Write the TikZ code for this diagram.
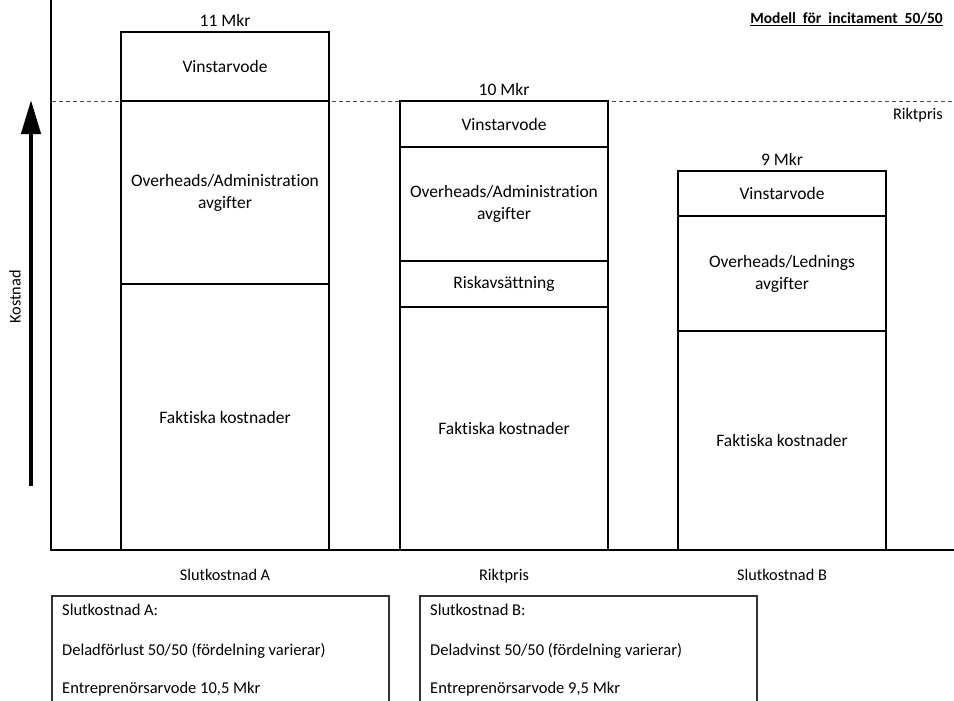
\documentclass[tikz,border=0pt]{standalone}
\usepackage{fontspec}
\setmainfont{Carlito}[Ligatures=NoCommon]
\usetikzlibrary{arrows.meta,positioning}
\begin{document}
\begin{tikzpicture}[x=1pt,y=-1pt,
  seg/.style={draw, line width=2pt, inner sep=0pt, outer sep=0pt,
    minimum width=208pt, align=center, font=\fontsize{17.5}{22}\selectfont},
  lbl/.style={inner sep=0pt, font=\fontsize{17.5}{20}\selectfont},
  small/.style={inner sep=0pt, font=\fontsize{16.3}{18}\selectfont},
  foot/.style={small, anchor=base},
  infobox/.style={draw=black!80, line width=1.3pt, inner sep=0pt, outer sep=0pt, anchor=north west,
    minimum width=337pt, minimum height=120pt},
  infotxt/.style={inner sep=0pt, anchor=west, font=\fontsize{16.5}{18}\selectfont}]
\useasboundingbox (0,0) rectangle (954,701);
\clip (0,0) rectangle (954,701);

% axes and the target-price line
\coordinate (origin) at (51,550);
\coordinate (ytop) at (51,0);
\coordinate (xend) at (954,550);
\coordinate (dl) at (52,101);
\coordinate (dr) at (954,101);
\draw[black!70, line width=0.9pt, dash pattern=on 4pt off 3pt] (dl) -- (dr);
\draw[line width=2pt] (ytop) -- (origin) -- (xend);

% cost arrow
\coordinate (abot) at (31,486);
\coordinate (atop) at (31,100);
\draw[line width=4.5pt, -{Triangle[width=19pt,length=34pt]}] (abot) -- (atop);
\node[small, rotate=90] (kost) at (15,297) {Kostnad};

% column A: final cost 11 Mkr
\node[seg, minimum height=69pt] (av) at (225,66.5) {Vinstarvode};
\node[seg, minimum height=183pt] (ao) at (225,192.5) {Overheads/Administration\\avgifter};
\node[seg, minimum height=266pt] (af) at (225,417) {Faktiska kostnader};
\node[lbl] (atot) at (225,20) {11 Mkr};
\node[foot] (alab) at (225,580) {Slutkostnad A};

% column B: target price 10 Mkr
\node[seg, minimum height=46pt] (bv) at (504,124) {Vinstarvode};
\node[seg, minimum height=114pt] (bo) at (504,204) {Overheads/Administration\\avgifter};
\node[seg, minimum height=46pt] (br) at (504,284) {Riskavsättning};
\node[seg, minimum height=243pt] (bf) at (504,428.5) {Faktiska kostnader};
\node[lbl] (btot) at (504,89) {10 Mkr};
\node[foot] (blab) at (504,580) {Riktpris};

% column C: final cost 9 Mkr
\node[seg, minimum height=45pt] (cv) at (782,193.5) {Vinstarvode};
\node[seg, minimum height=115pt] (co) at (782,273.5) {Overheads/Lednings\\avgifter};
\node[seg, minimum height=219pt] (cf) at (782,440.5) {Faktiska kostnader};
\node[lbl] (ctot) at (782,159) {9 Mkr};
\node[foot] (clab) at (782,580) {Slutkostnad B};

% right-hand labels
\node[small, anchor=east] (rikt) at (943,115) {Riktpris};
\node[inner sep=0pt, anchor=east, font=\fontsize{15.5}{18}\selectfont\bfseries] (title) at (943,19)
  {\underline{Modell\ \ för\ \ incitament\ \ 50/50}};

% explanation boxes
\node[infobox] (boxa) at (52,596) {};
\node[infotxt] (a1) at ([xshift=10pt,yshift=-14pt]boxa.north west) {Slutkostnad A:};
\node[infotxt] (a2) at ([xshift=10pt,yshift=-55pt]boxa.north west) {Deladförlust 50/50 (fördelning varierar)};
\node[infotxt] (a3) at ([xshift=10pt,yshift=-93pt]boxa.north west) {Entreprenörsarvode 10,5 Mkr};

\node[infobox] (boxb) at (420,596) {};
\node[infotxt] (b1) at ([xshift=10pt,yshift=-14pt]boxb.north west) {Slutkostnad B:};
\node[infotxt] (b2) at ([xshift=10pt,yshift=-55pt]boxb.north west) {Deladvinst 50/50 (fördelning varierar)};
\node[infotxt] (b3) at ([xshift=10pt,yshift=-93pt]boxb.north west) {Entreprenörsarvode 9,5 Mkr};
\end{tikzpicture}
\end{document}
